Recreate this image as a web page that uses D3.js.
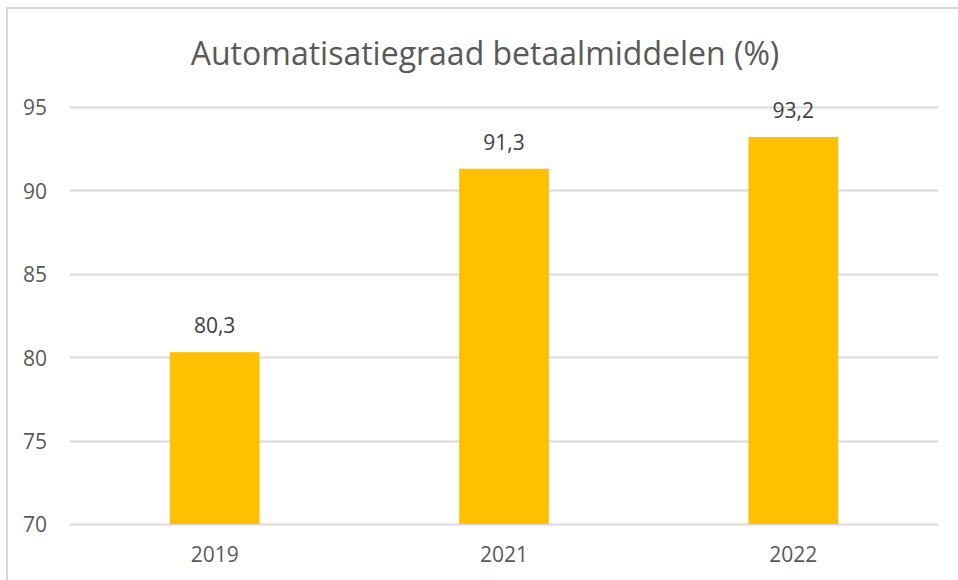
<!DOCTYPE html>
<html>
<head>
<meta charset="utf-8">
<script src="https://cdnjs.cloudflare.com/ajax/libs/d3/7.8.5/d3.min.js"></script>
<style>
  body { margin: 0; background: #fff; }
  svg text { font-family: "Segoe UI", "Open Sans", "Noto Sans", sans-serif; }
</style>
</head>
<body>
<svg id="chart" width="958" height="580"></svg>
<script>
var years = ['2019', '2021', '2022'];
var values = [80.3, 91.3, 93.2];
var yTicks = [70, 75, 80, 85, 90, 95];
var title = 'Automatisatiegraad betaalmiddelen (%)';

var svg = d3.select('#chart');
var W = 958, H = 580;
var margin = {left: 70, right: 20, top: 107, bottom: 56};
var font = '"Segoe UI", "Open Sans", "Noto Sans", sans-serif';

// chart frame (only top and left edges are visible in the crop)
svg.append('path')
    .attr('d', 'M7 ' + H + ' V8 H' + W)
    .attr('fill', 'none')
    .attr('stroke', '#d9d9d9')
    .attr('stroke-width', 2);

var x = d3.scaleBand()
    .domain(years)
    .range([margin.left, W - margin.right])
    .paddingInner(0.69)
    .paddingOuter(0.345);

var y = d3.scaleLinear()
    .domain([70, 95])
    .range([H - margin.bottom, margin.top]);

svg.append('text')
    .attr('x', 485)
    .attr('y', 65)
    .attr('text-anchor', 'middle')
    .attr('fill', '#595959')
    .attr('font-size', 32)
    .text(title);

// gridlines
svg.append('g').selectAll('line')
    .data(yTicks)
    .join('line')
    .attr('x1', margin.left)
    .attr('x2', W - margin.right)
    .attr('y1', function (d) { return Math.round(y(d)) + 0.5; })
    .attr('y2', function (d) { return Math.round(y(d)) + 0.5; })
    .attr('stroke', '#d9d9d9')
    .attr('stroke-width', 2);

// y axis labels
var yAxis = d3.axisLeft(y).tickValues(yTicks).tickSize(0).tickPadding(0);
var gy = svg.append('g')
    .attr('transform', 'translate(47,0)')
    .call(yAxis);
gy.select('.domain').remove();
gy.selectAll('text')
    .attr('fill', '#595959')
    .attr('font-size', 21)
    .attr('dy', '0.38em')
    .style('font-family', font);

// x axis labels
var xAxis = d3.axisBottom(x).tickSize(0).tickPadding(0);
var gx = svg.append('g')
    .attr('transform', 'translate(0,' + (H - margin.bottom + 23) + ')')
    .call(xAxis);
gx.select('.domain').remove();
gx.selectAll('text')
    .attr('fill', '#595959')
    .attr('font-size', 21)
    .style('font-family', font);

var data = years.map(function (yr, i) { return {year: yr, value: values[i]}; });

svg.append('g').selectAll('rect')
    .data(data)
    .join('rect')
    .attr('x', function (d) { return x(d.year); })
    .attr('width', x.bandwidth())
    .attr('y', function (d) { return y(d.value); })
    .attr('height', function (d) { return y(70) - y(d.value); })
    .attr('fill', '#ffc000');

svg.append('g').selectAll('text')
    .data(data)
    .join('text')
    .attr('x', function (d) { return x(d.year) + x.bandwidth() / 2; })
    .attr('y', function (d) { return y(d.value) - 19; })
    .attr('text-anchor', 'middle')
    .attr('fill', '#404040')
    .attr('font-size', 21)
    .text(function (d) { return String(d.value).replace('.', ','); });
</script>
</body>
</html>
